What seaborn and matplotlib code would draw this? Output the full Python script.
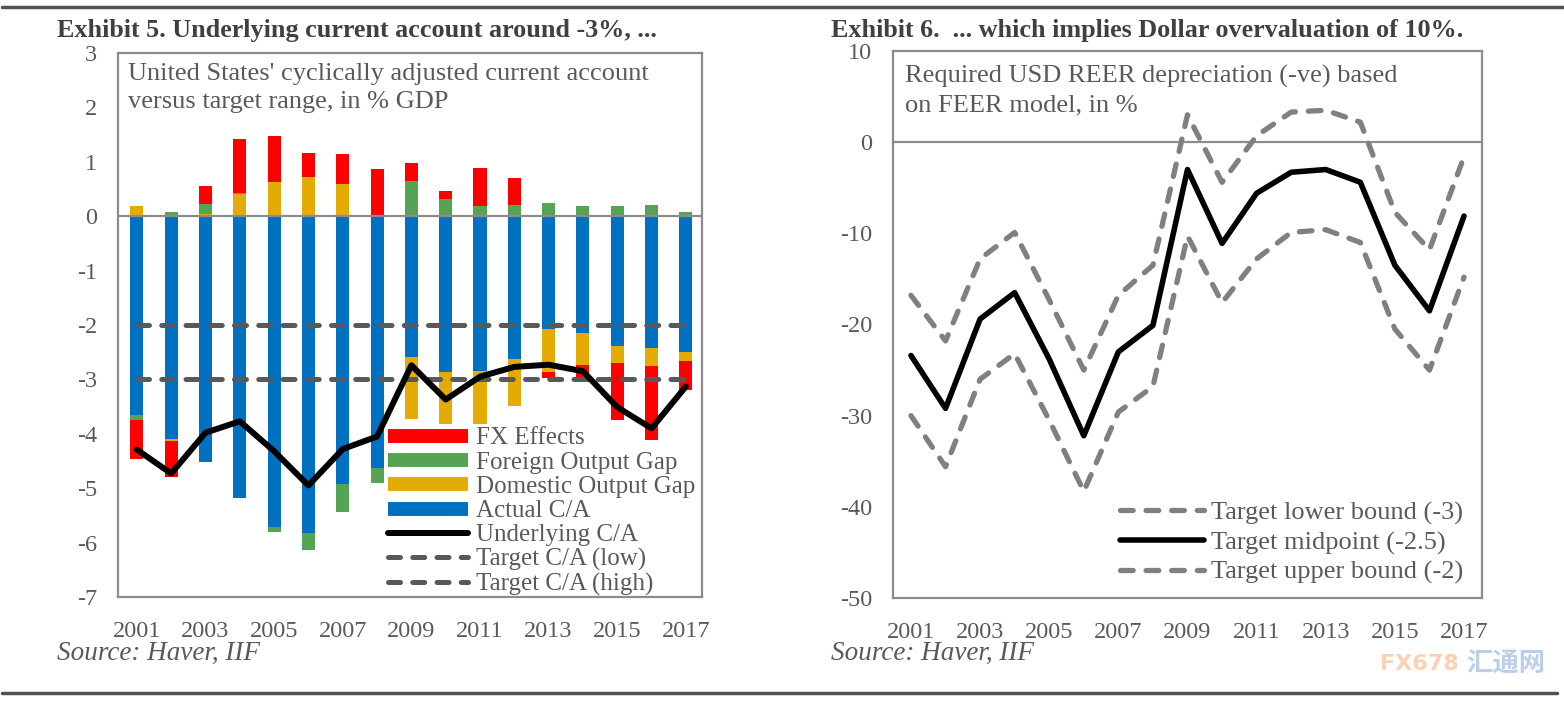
import matplotlib
matplotlib.use("Agg")
import matplotlib.pyplot as plt
from matplotlib.lines import Line2D
import numpy as np
import seaborn as sns

years = list(range(2001, 2018))
year_ticks = list(range(2001, 2018, 2))

# Exhibit 5: cyclically adjusted current account components, % GDP
actual_ca = [-3.65, -4.10, -4.52, -5.18, -5.71, -5.83, -4.92, -4.63, -2.58,
             -2.87, -2.85, -2.63, -2.08, -2.14, -2.39, -2.42, -2.49]
domestic_gap = [0.19, -0.03, 0.04, 0.40, 0.63, 0.72, 0.59, 0.00, -1.14,
                -0.95, -0.97, -0.85, -0.79, -0.59, -0.31, -0.34, -0.17]
foreign_gap = [-0.10, 0.08, 0.19, 0.03, -0.09, -0.30, -0.51, -0.28, 0.64,
               0.31, 0.18, 0.20, 0.25, 0.19, 0.19, 0.20, 0.07]
fx_effects = [-0.72, -0.67, 0.33, 0.98, 0.85, 0.44, 0.56, 0.87, 0.34,
              0.15, 0.70, 0.51, -0.11, -0.31, -1.04, -1.35, -0.54]
underlying_ca = [-4.29, -4.73, -3.98, -3.77, -4.32, -4.95, -4.28, -4.05, -2.74,
                 -3.37, -2.95, -2.77, -2.73, -2.85, -3.51, -3.90, -3.13]
target_ca_low = [-2.0] * 17
target_ca_high = [-3.0] * 17

# Exhibit 6: required USD REER depreciation, %
reer_lower = [-30.0, -35.6, -26.0, -23.2, -30.5, -38.3, -29.6, -26.8, -10.3,
              -17.6, -12.8, -9.9, -9.6, -11.0, -20.5, -25.0, -14.8]
reer_mid = [-23.4, -29.2, -19.4, -16.5, -23.8, -32.2, -23.0, -20.1, -3.0,
            -11.1, -5.6, -3.3, -3.0, -4.4, -13.5, -18.5, -8.1]
reer_upper = [-16.8, -21.8, -12.8, -9.9, -17.3, -25.0, -16.8, -13.5, 3.0,
              -4.4, 0.7, 3.3, 3.5, 2.2, -7.7, -11.8, -1.6]

RED = "#ff0000"
GREEN = "#55a454"
ORANGE = "#e5ab05"
BLUE = "#0070c0"
DARK = "#595959"
GREY = "#808080"
TEXT = "#595959"

sns.set_theme(style="white")
plt.rcParams["font.family"] = ["Liberation Serif", "DejaVu Serif"]
plt.rcParams["axes.unicode_minus"] = False
plt.rcParams["text.color"] = TEXT
plt.rcParams["axes.labelcolor"] = TEXT
plt.rcParams["xtick.color"] = TEXT
plt.rcParams["ytick.color"] = TEXT

W, H = 1564, 703
fig = plt.figure(figsize=(W / 100, H / 100), dpi=100)


def fig_rect(x0, y0, x1, y1):
    return [x0 / W, 1 - y1 / H, (x1 - x0) / W, (y1 - y0) / H]


def style_axes(ax):
    for side in ax.spines.values():
        side.set_color("#8c8c8c")
        side.set_linewidth(1.6)
    ax.tick_params(length=0, labelsize=17.5)
    ax.tick_params(axis="x", pad=17)
    ax.tick_params(axis="y", pad=15)
    ax.set_xlabel("")
    ax.set_ylabel("")


# ---- Exhibit 5 ----
ax1 = fig.add_axes(fig_rect(118, 53, 702, 597))
pos_base = np.zeros(len(years))
neg_base = np.zeros(len(years))
for values, colour in [(actual_ca, BLUE), (domestic_gap, ORANGE),
                       (foreign_gap, GREEN), (fx_effects, RED)]:
    values = np.array(values)
    bottoms = np.where(values >= 0, pos_base, neg_base)
    sns.barplot(x=years, y=values, bottom=bottoms, native_scale=True,
                width=0.38, color=colour, saturation=1, errorbar=None,
                linewidth=0, ax=ax1)
    pos_base = pos_base + np.clip(values, 0, None)
    neg_base = neg_base + np.clip(values, None, 0)

ax1.axhline(0, color="#8c8c8c", lw=1.6, zorder=1.5)
dash = (0, (2.4, 2.45))
for target in (target_ca_low, target_ca_high):
    sns.lineplot(x=years, y=target, color=DARK, lw=3.6, linestyle=dash,
                 dash_capstyle="round", ax=ax1)
sns.lineplot(x=years, y=underlying_ca, color="black", lw=4.3, ax=ax1)

ax1.set_ylim(-7, 3)
ax1.set_xlim(2000.45, 2017.47)
ax1.set_yticks(range(-7, 4))
ax1.set_xticks(year_ticks)
style_axes(ax1)

handles1 = [
    Line2D([], [], color=RED, lw=10, solid_capstyle="butt"),
    Line2D([], [], color=GREEN, lw=10, solid_capstyle="butt"),
    Line2D([], [], color=ORANGE, lw=10, solid_capstyle="butt"),
    Line2D([], [], color=BLUE, lw=10, solid_capstyle="butt"),
    Line2D([], [], color="black", lw=4.3, solid_capstyle="round"),
    Line2D([], [], color=DARK, lw=3.6, linestyle=dash, dash_capstyle="round"),
    Line2D([], [], color=DARK, lw=3.6, linestyle=dash, dash_capstyle="round"),
]
labels1 = ["FX Effects", "Foreign Output Gap", "Domestic Output Gap",
           "Actual C/A", "Underlying C/A", "Target C/A (low)", "Target C/A (high)"]
fig.legend(handles1, labels1, loc="upper left",
           bbox_to_anchor=(388 / W, 1 - 427 / H), frameon=False,
           fontsize=18, handlelength=3.2, handletextpad=0.3,
           labelspacing=0.07, borderpad=0, borderaxespad=0)

fig.text(128 / W, 1 - 63 / H,
         "United States' cyclically adjusted current account\nversus target range, in % GDP",
         fontsize=19, va="top", ha="left", linespacing=1.36)

# ---- Exhibit 6 ----
ax2 = fig.add_axes(fig_rect(893, 51, 1482, 598))
ax2.axhline(0, color="#8c8c8c", lw=1.6, zorder=1.5)
sns.lineplot(x=years, y=reer_lower, color=GREY, lw=3.8, linestyle=dash,
             dash_capstyle="round", ax=ax2)
sns.lineplot(x=years, y=reer_mid, color="black", lw=4.0, ax=ax2)
sns.lineplot(x=years, y=reer_upper, color=GREY, lw=3.8, linestyle=dash,
             dash_capstyle="round", ax=ax2)
ax2.set_ylim(-50, 10)
ax2.set_xlim(2000.48, 2017.52)
ax2.set_yticks(range(-50, 11, 10))
ax2.set_xticks(year_ticks)
style_axes(ax2)

handles2 = [
    Line2D([], [], color=GREY, lw=3.8, linestyle=dash, dash_capstyle="round"),
    Line2D([], [], color="black", lw=4.0, solid_capstyle="round"),
    Line2D([], [], color=GREY, lw=3.8, linestyle=dash, dash_capstyle="round"),
]
labels2 = ["Target lower bound (-3)", "Target midpoint (-2.5)", "Target upper bound (-2)"]
fig.legend(handles2, labels2, loc="upper left",
           bbox_to_anchor=(1120 / W, 1 - 501 / H), frameon=False,
           fontsize=19, handlelength=3.2, handletextpad=0.25,
           labelspacing=0.22, borderpad=0, borderaxespad=0)

fig.text(905 / W, 1 - 65 / H,
         "Required USD REER depreciation (-ve) based\non FEER model, in %",
         fontsize=19, va="top", ha="left", linespacing=1.36)

# ---- titles, sources, rules ----
fig.text(57 / W, 1 - 30 / H, "Exhibit 5. Underlying current account around -3%, ...",
         fontsize=18.8, fontweight="bold", color="#404040", va="center")
fig.text(831 / W, 1 - 30 / H, "Exhibit 6.  ... which implies Dollar overvaluation of 10%.",
         fontsize=18.8, fontweight="bold", color="#404040", va="center")
fig.text(57 / W, 1 - 653 / H, "Source: Haver, IIF", fontsize=19.5, style="italic",
         va="center")
fig.text(831 / W, 1 - 653 / H, "Source: Haver, IIF", fontsize=19.5, style="italic",
         va="center")

fig.add_artist(Line2D([2 / W, 1.0], [1 - 7 / H, 1 - 7 / H], color="#505050", lw=2.5))
fig.add_artist(Line2D([2 / W, 1557 / W], [1 - 693 / H, 1 - 693 / H], color="#505050", lw=2.5))

# faint watermark
fig.text(1380 / W, 1 - 664 / H, "FX678", fontsize=16, color="#f6a46a", alpha=0.5,
         va="center", ha="left", fontweight="bold", family=["DejaVu Sans"])
fig.text(1545 / W, 1 - 664 / H, "汇通网", fontsize=19, color="#8fb0d8", alpha=0.6,
         va="center", ha="right", fontweight="bold",
         family=["Noto Sans CJK SC", "DejaVu Sans"])

fig.savefig("out.png", dpi=100)
